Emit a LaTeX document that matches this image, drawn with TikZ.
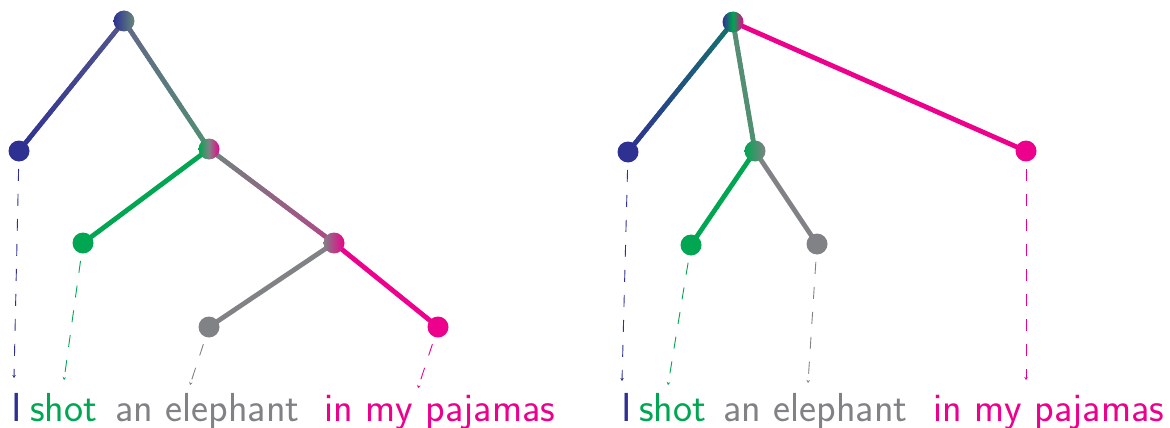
\documentclass[tikz,border=0pt]{standalone}
\usepackage{fontspec}
\usetikzlibrary{calc,arrows.meta}
\definecolor{cblue}{HTML}{2E3192}
\definecolor{cgreen}{HTML}{00A651}
\definecolor{cgray}{HTML}{808285}
\definecolor{cmag}{HTML}{EC008C}
\colorlet{rootL}{cblue!55!cgray}
\colorlet{rootM}{cblue!35!cgray}
\colorlet{vpT}{cgreen!35!cgray}
\colorlet{vpR}{cgray!85!cgreen}
\colorlet{ppT}{cgray!55!cmag}
\colorlet{teal2}{cblue!45!cgreen}
\colorlet{rvpA}{cgreen!30!cgray}
\colorlet{rvpB}{cgreen!40!cgray}
\tikzset{
  dot/.style={circle,inner sep=0pt,minimum size=21pt},
  edge/.style={line width=4.8pt,line cap=round},
  darr/.style={line width=0.9pt,dash pattern=on 12pt off 13pt,-{Stealth[length=3pt,width=3.5pt]},shorten <=18pt},
  word/.style={anchor=base west,inner sep=0pt,font=\sffamily\fontsize{40.5}{46}\selectfont},
}
\newcommand{\gradedge}[4]{%
  \foreach \k in {0,...,39}{%
    \pgfmathsetmacro{\pa}{\k/40}%
    \pgfmathsetmacro{\pb}{(\k+1)/40}%
    \pgfmathtruncatemacro{\pc}{100-(\k+0.5)/40*100}%
    \colorlet{segc}{#2!\pc!#4}%
    \draw[edge,segc] ($(#1)!\pa!(#3)$) -- ($(#1)!\pb!(#3)$);
  }}
\begin{document}
\begin{tikzpicture}[x=1pt,y=-1pt]
\useasboundingbox (0,0) rectangle (1170,428);
% ---------- left tree: coordinates
\coordinate (Lr) at (124,21);
\coordinate (Li) at (19,151);
\coordinate (Lvp) at (209,149);
\coordinate (Ls) at (83,243);
\coordinate (Lpp) at (334,243);
\coordinate (Le) at (209,327);
\coordinate (Lp) at (438,327);
% edges
\gradedge{Li}{cblue}{Lr}{rootL}
\gradedge{Lr}{rootM}{Lvp}{vpT}
\gradedge{Lvp}{vpR}{Lpp}{ppT}
\draw[edge,cgreen] (Lvp) -- (Ls);
\draw[edge,cgray] (Lpp) -- (Le);
\draw[edge,cmag] (Lpp) -- (Lp);
% nodes
\node[dot,left color=cblue,right color=cgray!80!cgreen] (nLr) at (Lr) {};
\node[dot,fill=cblue] (nLi) at (Li) {};
\node[dot,left color=cgreen,right color=cmag,middle color=cgray] (nLvp) at (Lvp) {};
\node[dot,fill=cgreen] (nLs) at (Ls) {};
\node[dot,left color=cgray,right color=cmag] (nLpp) at (Lpp) {};
\node[dot,fill=cgray] (nLe) at (Le) {};
\node[dot,fill=cmag] (nLp) at (Lp) {};
% dashed arrows
\coordinate (tLi) at (14,378);
\coordinate (tLs) at (64,380);
\coordinate (tLe) at (190,385);
\coordinate (tLp) at (418,388);
\draw[darr,cblue] (Li) -- (tLi);
\draw[darr,cgreen] (Ls) -- (tLs);
\draw[darr,cgray] (Le) -- (tLe);
\draw[darr,cmag] (Lp) -- (tLp);
% words
\node[word,cblue] (wLi) at (11,421) {I};
\node[word,cgreen] (wLs) at (30,421) {shot};
\node[word,cgray] (wLe) at (115,421) {an elephant};
\node[word,cmag] (wLp) at (324,421) {in my pajamas};
% ---------- right tree
\coordinate (Rr) at (733,22);
\coordinate (Ri) at (628,152);
\coordinate (Rvp) at (755,151);
\coordinate (Rs) at (691,245);
\coordinate (Re) at (817,244);
\coordinate (Rp) at (1026,151);
\gradedge{Ri}{cblue}{Rr}{teal2}
\gradedge{Rr}{rvpA}{Rvp}{rvpB}
\draw[edge,cmag] (Rr) -- (Rp);
\draw[edge,cgreen] (Rvp) -- (Rs);
\draw[edge,cgray] (Rvp) -- (Re);
\node[dot,left color=cblue,right color=cmag,middle color=cgreen] (nRr) at (Rr) {};
\node[dot,fill=cblue] (nRi) at (Ri) {};
\node[dot,left color=cgreen,right color=cgray] (nRvp) at (Rvp) {};
\node[dot,fill=cgreen] (nRs) at (Rs) {};
\node[dot,fill=cgray] (nRe) at (Re) {};
\node[dot,fill=cmag] (nRp) at (Rp) {};
\coordinate (tRi) at (622,381);
\coordinate (tRs) at (668,385);
\coordinate (tRe) at (808,383);
\coordinate (tRp) at (1026,380);
\draw[darr,cblue] (Ri) -- (tRi);
\draw[darr,cgreen] (Rs) -- (tRs);
\draw[darr,cgray] (Re) -- (tRe);
\draw[darr,cmag] (Rp) -- (tRp);
\node[word,cblue] (wRi) at (621,421) {I};
\node[word,cgreen] (wRs) at (639,421) {shot};
\node[word,cgray] (wRe) at (723,421) {an elephant};
\node[word,cmag] (wRp) at (933,421) {in my pajamas};
\end{tikzpicture}
\end{document}
